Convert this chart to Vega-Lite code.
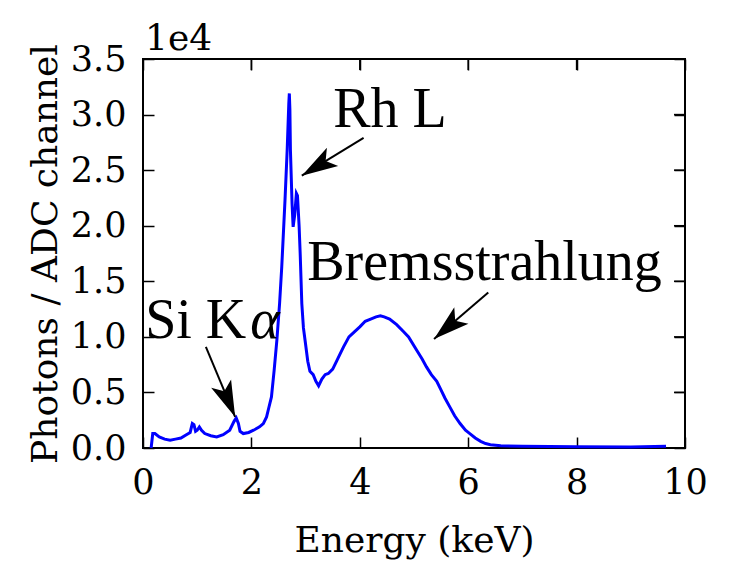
{
  "$schema": "https://vega.github.io/schema/vega-lite/v6.json",
  "width": 542,
  "height": 389,
  "autosize": {"type": "none"},
  "padding": {"left": 143, "top": 59, "right": 45, "bottom": 121},
  "background": "white",
  "title": {"text": "1e4", "anchor": "start", "frame": "group", "font": "DejaVu Serif", "fontSize": 36, "fontWeight": "normal", "color": "black", "offset": 3, "baseline": "bottom", "dx": 2, "dy": 55},
  "resolve": {"axis": {"x": "independent", "y": "independent"}},
  "config": {
    "view": {"stroke": "black", "strokeWidth": 2},
    "axis": {"grid": false, "domain": false, "labelFlush": false, "labelFont": "DejaVu Serif", "labelFontSize": 35, "labelColor": "black", "titleFont": "DejaVu Serif", "titleFontSize": 36, "titleFontWeight": "normal", "titleColor": "black", "tickColor": "black", "tickWidth": 1.5, "tickSize": -11}
  },
  "datasets": {
    "spectrum": [
      {"energy": 0.15, "counts": 0},
      {"energy": 0.18, "counts": 1300},
      {"energy": 0.22, "counts": 1300},
      {"energy": 0.3, "counts": 1000},
      {"energy": 0.4, "counts": 800},
      {"energy": 0.5, "counts": 700},
      {"energy": 0.6, "counts": 800},
      {"energy": 0.7, "counts": 900},
      {"energy": 0.8, "counts": 1200},
      {"energy": 0.87, "counts": 1400},
      {"energy": 0.91, "counts": 2200},
      {"energy": 0.94, "counts": 2100},
      {"energy": 0.97, "counts": 1500},
      {"energy": 1.0, "counts": 1600},
      {"energy": 1.04, "counts": 1900},
      {"energy": 1.08, "counts": 1600},
      {"energy": 1.14, "counts": 1300},
      {"energy": 1.25, "counts": 1100},
      {"energy": 1.36, "counts": 1000},
      {"energy": 1.48, "counts": 1200},
      {"energy": 1.6, "counts": 1600},
      {"energy": 1.68, "counts": 2400},
      {"energy": 1.72, "counts": 2700},
      {"energy": 1.76, "counts": 2200},
      {"energy": 1.79, "counts": 1500},
      {"energy": 1.85, "counts": 1300},
      {"energy": 1.95, "counts": 1400},
      {"energy": 2.04, "counts": 1600},
      {"energy": 2.15, "counts": 1900},
      {"energy": 2.22, "counts": 2200},
      {"energy": 2.28, "counts": 2800},
      {"energy": 2.32, "counts": 3600},
      {"energy": 2.37, "counts": 4600},
      {"energy": 2.42, "counts": 7000},
      {"energy": 2.47, "counts": 9700},
      {"energy": 2.52, "counts": 13000},
      {"energy": 2.56, "counts": 16300},
      {"energy": 2.62, "counts": 22300},
      {"energy": 2.66, "counts": 26800},
      {"energy": 2.69, "counts": 31000},
      {"energy": 2.7, "counts": 31900},
      {"energy": 2.71, "counts": 30500},
      {"energy": 2.72, "counts": 26800},
      {"energy": 2.75, "counts": 22000},
      {"energy": 2.77, "counts": 19900},
      {"energy": 2.8, "counts": 21000},
      {"energy": 2.83, "counts": 22900},
      {"energy": 2.85, "counts": 22700},
      {"energy": 2.88, "counts": 20000},
      {"energy": 2.9, "counts": 17500},
      {"energy": 2.93, "counts": 13000},
      {"energy": 2.96, "counts": 10800},
      {"energy": 2.99, "counts": 9700},
      {"energy": 3.04, "counts": 7800},
      {"energy": 3.08, "counts": 6900},
      {"energy": 3.14, "counts": 6600},
      {"energy": 3.19, "counts": 6000},
      {"energy": 3.24, "counts": 5600},
      {"energy": 3.3, "counts": 6200},
      {"energy": 3.36, "counts": 6600},
      {"energy": 3.42, "counts": 6700},
      {"energy": 3.5, "counts": 7100},
      {"energy": 3.57, "counts": 7800},
      {"energy": 3.63, "counts": 8400},
      {"energy": 3.7, "counts": 9100},
      {"energy": 3.8, "counts": 10000},
      {"energy": 3.91, "counts": 10500},
      {"energy": 4.0, "counts": 10900},
      {"energy": 4.1, "counts": 11400},
      {"energy": 4.2, "counts": 11600},
      {"energy": 4.3, "counts": 11800},
      {"energy": 4.38, "counts": 11900},
      {"energy": 4.45, "counts": 11800},
      {"energy": 4.55, "counts": 11600},
      {"energy": 4.68, "counts": 11100},
      {"energy": 4.8, "counts": 10500},
      {"energy": 4.9, "counts": 10000},
      {"energy": 5.05, "counts": 8800},
      {"energy": 5.15, "counts": 8000},
      {"energy": 5.23, "counts": 7300},
      {"energy": 5.32, "counts": 6600},
      {"energy": 5.42, "counts": 6000},
      {"energy": 5.5, "counts": 5200},
      {"energy": 5.57, "counts": 4500},
      {"energy": 5.66, "counts": 3700},
      {"energy": 5.75, "counts": 2900},
      {"energy": 5.85, "counts": 2200},
      {"energy": 5.95, "counts": 1600},
      {"energy": 6.03, "counts": 1300},
      {"energy": 6.13, "counts": 900},
      {"energy": 6.23, "counts": 600},
      {"energy": 6.32, "counts": 400},
      {"energy": 6.41, "counts": 300},
      {"energy": 6.6, "counts": 200},
      {"energy": 7.0, "counts": 150},
      {"energy": 8.0, "counts": 120},
      {"energy": 9.0, "counts": 100},
      {"energy": 9.65, "counts": 150}
    ],
    "arrows": [
      {"label": "Rh L", "x": 4.07, "y": 27900, "x2": 2.93, "y2": 24500},
      {"label": "Bremsstrahlung", "x": 6.37, "y": 14000, "x2": 5.37, "y2": 9800},
      {"label": "Si Ka", "x": 1.16, "y": 9100, "x2": 1.7, "y2": 2800}
    ],
    "labels": [
      {"text": "Rh L", "x": 3.51, "y": 28890},
      {"text": "Bremsstrahlung", "x": 3.03, "y": 15120},
      {"text": "Si K", "x": 0.04, "y": 9900}
    ],
    "greek": [
      {"text": "α", "x": 1.98, "y": 9900}
    ],
    "xticks": [{"v": 2}, {"v": 4}, {"v": 6}, {"v": 8}],
    "yticks": [{"v": 5000}, {"v": 10000}, {"v": 15000}, {"v": 20000}, {"v": 25000}, {"v": 30000}]
  },
  "layer": [
    {
      "data": {"name": "spectrum"},
      "mark": {"type": "line", "color": "#0000ff", "strokeWidth": 3},
      "encoding": {
        "x": {"field": "energy", "type": "quantitative", "scale": {"domain": [0, 10], "nice": false, "padding": 0, "zero": false},
              "axis": {"orient": "bottom", "values": [0, 2, 4, 6, 8, 10], "format": "d", "title": "Energy (keV)", "labelPadding": 28, "titlePadding": 23}},
        "y": {"field": "counts", "type": "quantitative", "scale": {"domain": [0, 35000], "nice": false, "padding": 0},
              "axis": {"orient": "left", "values": [0, 5000, 10000, 15000, 20000, 25000, 30000, 35000], "labelExpr": "format(datum.value / 10000, '.1f')", "title": "Photons / ADC channel", "labelPadding": 28, "titlePadding": 6}}
      }
    },
    {
      "data": {"name": "arrows"},
      "mark": {"type": "rule", "color": "black", "strokeWidth": 2},
      "encoding": {
        "x": {"field": "x", "type": "quantitative", "scale": {"domain": [0, 10], "nice": false, "padding": 0},
              "axis": {"orient": "top", "values": [0, 2, 4, 6, 8, 10], "labels": true, "labelOpacity": 0, "labelFontSize": 1, "labelPadding": 11, "title": null, "ticks": true, "tickSize": -11, "tickColor": "black", "tickOpacity": 1, "zindex": 2}},
        "y": {"field": "y", "type": "quantitative", "scale": {"domain": [0, 35000], "nice": false, "padding": 0},
              "axis": {"orient": "right", "values": [0, 5000, 10000, 15000, 20000, 25000, 30000, 35000], "labels": true, "labelOpacity": 0, "labelFontSize": 1, "labelPadding": 11, "title": null, "ticks": true, "tickSize": -11, "tickColor": "black", "tickOpacity": 1, "zindex": 2}},
        "x2": {"field": "x2"},
        "y2": {"field": "y2"}
      }
    },
    {
      "data": {"name": "xticks"},
      "mark": {"type": "rule", "color": "black", "strokeWidth": 1.5},
      "encoding": {
        "x": {"field": "v", "type": "quantitative", "scale": {"domain": [0, 10], "nice": false, "padding": 0}, "axis": null},
        "y": {"datum": 35000, "type": "quantitative", "scale": {"domain": [0, 35000], "nice": false, "padding": 0}, "axis": null},
        "y2": {"datum": 34010}
      }
    },
    {
      "data": {"name": "yticks"},
      "mark": {"type": "rule", "color": "black", "strokeWidth": 1.5},
      "encoding": {
        "y": {"field": "v", "type": "quantitative", "scale": {"domain": [0, 35000], "nice": false, "padding": 0}, "axis": null},
        "x": {"datum": 10, "type": "quantitative", "scale": {"domain": [0, 10], "nice": false, "padding": 0}, "axis": null},
        "x2": {"datum": 9.797}
      }
    },
    {
      "data": {"name": "arrows"},
      "transform": [{"filter": "datum.label == 'Rh L'"}],
      "mark": {"type": "point", "filled": true, "color": "black", "opacity": 1, "shape": "M0,0L-0.6,2L0,1.55L0.6,2Z", "size": 1300, "angle": 238.5},
      "encoding": {
        "x": {"field": "x2", "type": "quantitative", "scale": {"domain": [0, 10], "nice": false, "padding": 0}, "axis": null},
        "y": {"field": "y2", "type": "quantitative", "scale": {"domain": [0, 35000], "nice": false, "padding": 0}, "axis": null}
      }
    },
    {
      "data": {"name": "arrows"},
      "transform": [{"filter": "datum.label == 'Bremsstrahlung'"}],
      "mark": {"type": "point", "filled": true, "color": "black", "opacity": 1, "shape": "M0,0L-0.6,2L0,1.55L0.6,2Z", "size": 1300, "angle": 229.2},
      "encoding": {
        "x": {"field": "x2", "type": "quantitative", "scale": {"domain": [0, 10], "nice": false, "padding": 0}, "axis": null},
        "y": {"field": "y2", "type": "quantitative", "scale": {"domain": [0, 35000], "nice": false, "padding": 0}, "axis": null}
      }
    },
    {
      "data": {"name": "arrows"},
      "transform": [{"filter": "datum.label == 'Si Ka'"}],
      "mark": {"type": "point", "filled": true, "color": "black", "opacity": 1, "shape": "M0,0L-0.6,2L0,1.55L0.6,2Z", "size": 1300, "angle": 157.1},
      "encoding": {
        "x": {"field": "x2", "type": "quantitative", "scale": {"domain": [0, 10], "nice": false, "padding": 0}, "axis": null},
        "y": {"field": "y2", "type": "quantitative", "scale": {"domain": [0, 35000], "nice": false, "padding": 0}, "axis": null}
      }
    },
    {
      "data": {"name": "labels"},
      "mark": {"type": "text", "font": "Liberation Serif", "fontSize": 56, "align": "left", "baseline": "alphabetic", "color": "black"},
      "encoding": {
        "x": {"field": "x", "type": "quantitative", "scale": {"domain": [0, 10], "nice": false, "padding": 0}, "axis": null},
        "y": {"field": "y", "type": "quantitative", "scale": {"domain": [0, 35000], "nice": false, "padding": 0}, "axis": null},
        "text": {"field": "text"}
      }
    },
    {
      "data": {"name": "greek"},
      "mark": {"type": "text", "font": "Liberation Serif", "fontSize": 56, "fontStyle": "italic", "align": "left", "baseline": "alphabetic", "color": "black"},
      "encoding": {
        "x": {"field": "x", "type": "quantitative", "scale": {"domain": [0, 10], "nice": false, "padding": 0}, "axis": null},
        "y": {"field": "y", "type": "quantitative", "scale": {"domain": [0, 35000], "nice": false, "padding": 0}, "axis": null},
        "text": {"field": "text"}
      }
    }
  ]
}
